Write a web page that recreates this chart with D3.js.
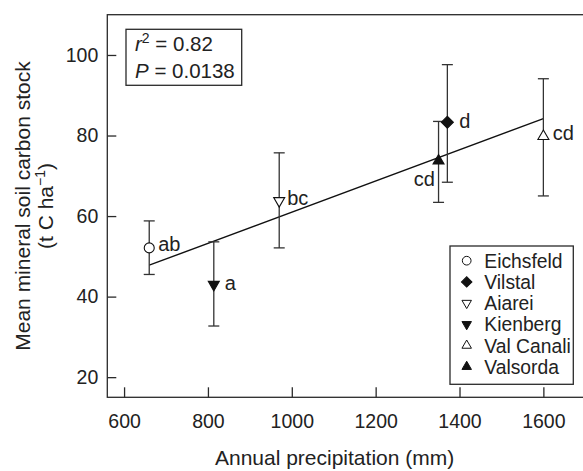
<!DOCTYPE html>
<html><head><meta charset="utf-8">
<script src="https://cdn.jsdelivr.net/npm/d3@7"></script>
<style>body{margin:0;background:#fff}svg{display:block}text{font-family:"Liberation Sans",Arial,Helvetica,sans-serif;fill:#222}</style>
</head><body><svg id="c" width="583" height="471"></svg>
<script>
const sites = ["Eichsfeld","Vilstal","Aiarei","Kienberg","Val Canali","Valsorda"];
const precip = [660, 1371, 970, 814, 1600, 1350];
const carbon = [52.1, 83.3, 63.8, 43.0, 79.8, 73.7];
const errLow = [45.5, 68.4, 52.1, 32.7, 65.0, 63.4];
const errHigh = [58.8, 97.6, 75.7, 53.6, 94.1, 83.5];
const letters = ["ab","d","bc","a","cd","cd"];
const shapes = ["circle","diamond","triDown","triDown","triUp","triUp"];
const fills = ["white","#111","white","#111","white","#111"];
const regX = [660, 1600];
const regY = [47.8, 84.2];
const xTicks = [600,800,1000,1200,1400,1600];
const yTicks = [20,40,60,80,100];

const svg = d3.select("#c");
const x = d3.scaleLinear().domain([560,1720]).range([107.3, 107.3+1160*0.4193]);
const y = d3.scaleLinear().domain([15,110]).range([397.3,14.7]);
const ink = "#2a2a2a";

// frame
svg.append("rect").attr("x",x(560)).attr("y",y(110)).attr("width",x(1720)-x(560)).attr("height",y(15)-y(110))
  .attr("fill","none").attr("stroke",ink).attr("stroke-width",1.3);

// axes
const gx = svg.append("g").attr("transform",`translate(0,${y(15)})`)
  .call(d3.axisBottom(x).tickValues(xTicks).tickSize(-10).tickPadding(17).tickFormat(d3.format("d")));
const gy = svg.append("g").attr("transform",`translate(${x(560)},0)`)
  .call(d3.axisLeft(y).tickValues(yTicks).tickSize(-9).tickPadding(9).tickFormat(d3.format("d")));
[gx,gy].forEach(g=>{
  g.select(".domain").remove();
  g.selectAll(".tick line").attr("stroke",ink).attr("stroke-width",1.3);
  g.selectAll(".tick text").attr("font-size",19.5).attr("fill","#222")
   .style("font-family",'"Liberation Sans",Arial,sans-serif');
});

// axis titles
svg.append("text").attr("x",334.6).attr("y",465).attr("text-anchor","middle").attr("font-size",21)
  .text("Annual precipitation (mm)");
const yt = svg.append("g").attr("transform","translate(0,206) rotate(-90)");
yt.append("text").attr("x",0).attr("y",30).attr("text-anchor","middle").attr("font-size",21)
  .text("Mean mineral soil carbon stock");
const l2 = yt.append("text").attr("x",0).attr("y",53).attr("text-anchor","middle").attr("font-size",21);
l2.append("tspan").text("(t C ha");
l2.append("tspan").attr("dy",-8).attr("font-size",14).text("\u22121");
l2.append("tspan").attr("dy",8).text(")");

// regression line
svg.append("line").attr("x1",x(regX[0])).attr("y1",y(regY[0])).attr("x2",x(regX[1])).attr("y2",y(regY[1]))
  .attr("stroke","#111").attr("stroke-width",1.4);

function symPath(shape, s){
  if(shape==="circle") return d3.symbol(d3.symbolCircle, s*s*0.785)();
  if(shape==="diamond") return d3.symbol(d3.symbolSquare, s*s*0.5)();
  return d3.symbol(d3.symbolTriangle, s*s*0.433)();
}
function symTransform(shape, cx, cy){
  if(shape==="diamond") return `translate(${cx},${cy}) rotate(45)`;
  if(shape==="triDown") return `translate(${cx},${cy}) rotate(180)`;
  return `translate(${cx},${cy})`;
}

// error bars
const cap = 5.5;
sites.forEach((s,i)=>{
  const cx = x(precip[i]);
  const g = svg.append("g").attr("stroke","#333").attr("stroke-width",1.3);
  g.append("line").attr("x1",cx).attr("x2",cx).attr("y1",y(errLow[i])).attr("y2",y(errHigh[i]));
  g.append("line").attr("x1",cx-cap).attr("x2",cx+cap).attr("y1",y(errLow[i])).attr("y2",y(errLow[i]));
  g.append("line").attr("x1",cx-cap).attr("x2",cx+cap).attr("y1",y(errHigh[i])).attr("y2",y(errHigh[i]));
});
// points
const sizes = {circle:10, diamond:12, triDown:11, triUp:11};
sites.forEach((s,i)=>{
  svg.append("path").attr("d",symPath(shapes[i],sizes[shapes[i]]))
    .attr("transform",symTransform(shapes[i],x(precip[i]),y(carbon[i])))
    .attr("fill",fills[i]).attr("stroke","#111").attr("stroke-width",1.1);
});
// letter labels
const lblOff = [[9,3,"start"],[12,6,"start"],[8,4,"start"],[11,5,"start"],[9.4,4,"start"],[-3.7,25,"end"]];
sites.forEach((s,i)=>{
  svg.append("text").attr("x",x(precip[i])+lblOff[i][0]).attr("y",y(carbon[i])+lblOff[i][1])
    .attr("text-anchor",lblOff[i][2]).attr("font-size",20).text(letters[i]);
});

// stats box
svg.append("rect").attr("x",126).attr("y",29.3).attr("width",115.7).attr("height",56)
  .attr("fill","white").attr("stroke",ink).attr("stroke-width",1.3);
const t1 = svg.append("text").attr("x",135).attr("y",50.5).attr("font-size",20.5);
t1.append("tspan").attr("font-style","italic").text("r");
t1.append("tspan").attr("dy",-8).attr("font-size",14).text("2");
t1.append("tspan").attr("dy",8).text(" = 0.82");
const t2 = svg.append("text").attr("x",135).attr("y",77.5).attr("font-size",20.5);
t2.append("tspan").attr("font-style","italic").text("P");
t2.append("tspan").text(" = 0.0138");

// legend
svg.append("rect").attr("x",450).attr("y",246).attr("width",123.3).attr("height",138.3)
  .attr("fill","white").attr("stroke",ink).attr("stroke-width",1.3);
const lsizes = {circle:8.7, diamond:10.5, triDown:9.5, triUp:9.5};
sites.forEach((s,i)=>{
  const cy = 260.7 + i*21.2;
  svg.append("path").attr("d",symPath(shapes[i],lsizes[shapes[i]]))
    .attr("transform",symTransform(shapes[i],466.7,cy))
    .attr("fill",fills[i]).attr("stroke","#111").attr("stroke-width",1);
  svg.append("text").attr("x",484.3).attr("y",cy+7).attr("font-size",19.3).text(s);
});
</script></body></html>
